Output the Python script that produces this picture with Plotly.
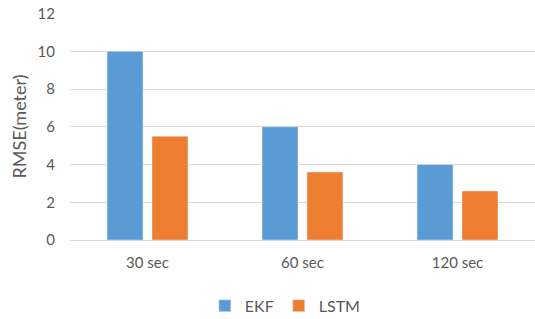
import plotly.graph_objects as go

categories = ["30 sec", "60 sec", "120 sec"]
ekf = [10, 6, 4]
lstm = [5.5, 3.6, 2.6]
y_ticks = [0, 2, 4, 6, 8, 10, 12]

font = "Lato, 'Open Sans', sans-serif"
fig = go.Figure()
fig.add_bar(x=categories, y=ekf, name="EKF", marker=dict(color="#5B9BD5"))
fig.add_bar(x=categories, y=lstm, name="LSTM", marker=dict(color="#ED7D31"))

fig.update_layout(
    width=535, height=319,
    margin=dict(l=70, r=0, t=13, b=79, autoexpand=False),
    paper_bgcolor="white", plot_bgcolor="white",
    barmode="group", bargap=0.42, bargroupgap=0.2,
    font=dict(family=font, size=15, color="#595959"),
    legend=dict(orientation="h", x=0.29, xanchor="left", y=-0.29, yanchor="middle",
                font=dict(size=16, color="#595959"), itemwidth=30),
    showlegend=True,
)
fig.update_xaxes(showline=False, ticks="", tickfont=dict(size=15), ticklabelstandoff=12, automargin=False)
fig.update_yaxes(range=[0, 12.03], tickvals=y_ticks, showgrid=True, gridcolor="#D9D9D9", gridwidth=1,
                 zeroline=True, zerolinecolor="#D9D9D9", zerolinewidth=1, automargin=False,
                 title=dict(text="RMSE(meter)", font=dict(size=18), standoff=6),
                 tickfont=dict(size=15), ticklabelstandoff=14)
fig.write_html("out.html", config={"displayModeBar": False},
               post_script="document.body.style.margin='0';")
